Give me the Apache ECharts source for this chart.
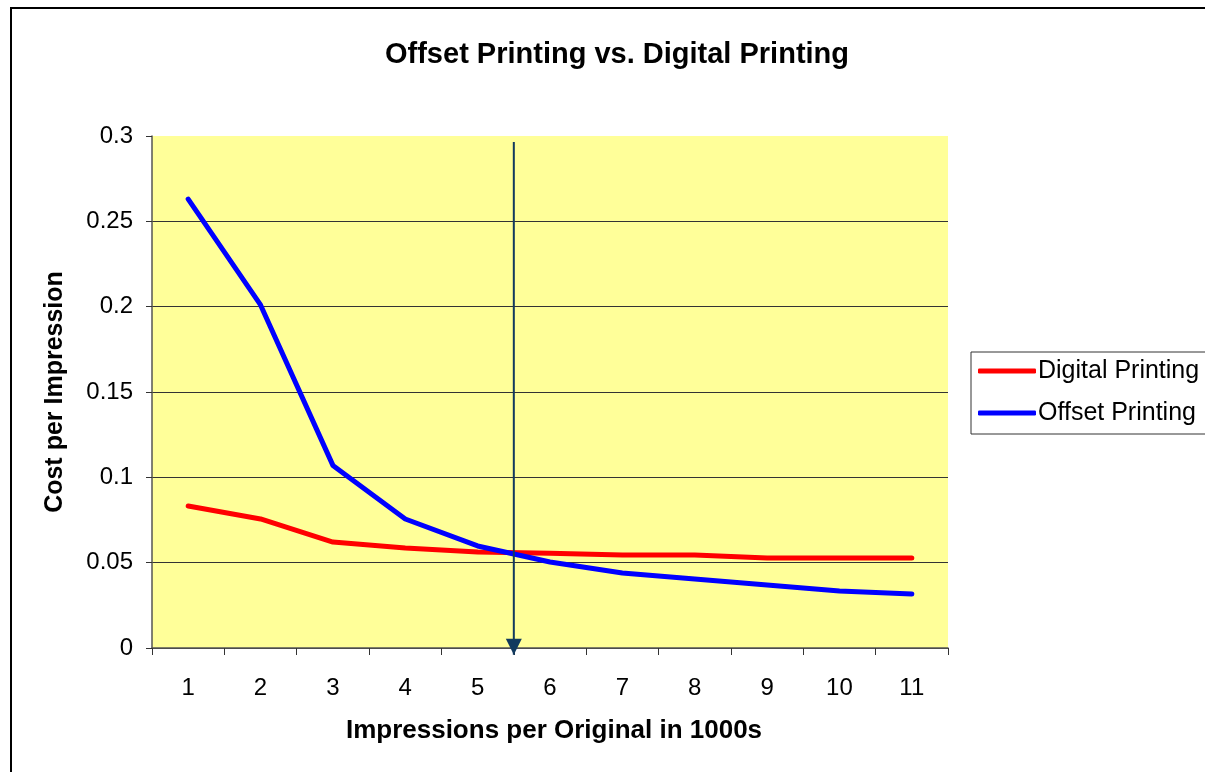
<!DOCTYPE html>
<html>
<head>
<meta charset="utf-8">
<script src="https://cdn.jsdelivr.net/npm/echarts@6/dist/echarts.min.js"></script>
<style>html,body{margin:0;padding:0;background:#fff;}#c{width:1205px;height:772px;}</style>
</head>
<body>
<div id="c"></div>
<script>
const categories = ['1','2','3','4','5','6','7','8','9','10','11'];
const digitalPrinting = [0.0832, 0.0756, 0.0621, 0.0586, 0.0563, 0.0555, 0.0545, 0.0545, 0.0527, 0.0527, 0.0527];
const offsetPrinting = [0.263, 0.201, 0.107, 0.0756, 0.0598, 0.0504, 0.0440, 0.0404, 0.0369, 0.0334, 0.0316];
const breakEvenX = 5.5;
const arrowTop = 0.2965;
const arrowBottom = -0.004;

const font = 'Arial, "Liberation Sans", sans-serif';
const chart = echarts.init(document.getElementById('c'));
chart.setOption({
  animation: false,
  backgroundColor: '#fff',
  textStyle: { fontFamily: font, color: '#000' },
  graphic: [{
    type: 'rect', z: -10, silent: true,
    shape: { x: 11, y: 8, width: 1400, height: 900 },
    style: { fill: 'none', stroke: '#000', lineWidth: 2 }
  }],
  title: {
    text: 'Offset Printing vs. Digital Printing',
    left: 380, top: 35,
    textStyle: { fontFamily: font, fontSize: 29, fontWeight: 'bold', color: '#000' }
  },
  legend: {
    orient: 'vertical',
    left: 971, top: 352,
    padding: [6, 8, 8, 7],
    itemGap: 16,
    itemWidth: 58, itemHeight: 5,
    icon: 'roundRect',
    backgroundColor: '#fff',
    borderColor: '#333', borderWidth: 1,
    textStyle: { fontFamily: font, fontSize: 25, lineHeight: 26, color: '#000', padding: [0,0,0,-3] },
    data: ['Digital Printing', 'Offset Printing']
  },
  grid: {
    left: 152, top: 136, width: 796, height: 512,
    show: true, backgroundColor: '#FFFF99', borderWidth: 0
  },
  xAxis: [{
    type: 'category',
    data: categories,
    name: 'Impressions per Original in 1000s',
    nameLocation: 'middle', nameGap: 70,
    nameTextStyle: { fontFamily: font, fontSize: 26, fontWeight: 'bold', color: '#000', padding: [0,0,0,8] },
    axisLine: { lineStyle: { color: '#555', width: 1.5 } },
    axisTick: { show: true, length: 7, lineStyle: { color: '#333' } },
    axisLabel: { fontFamily: font, fontSize: 24, color: '#000', margin: 28 },
    splitLine: { show: false }
  }, {
    type: 'value', min: 0.5, max: 11.5, show: false, gridIndex: 0
  }],
  yAxis: {
    type: 'value', min: 0, max: 0.3, interval: 0.05,
    name: 'Cost per Impression',
    nameLocation: 'middle', nameGap: 84,
    nameTextStyle: { fontFamily: font, fontSize: 25, fontWeight: 'bold', color: '#000' },
    axisLine: { show: true, lineStyle: { color: '#555', width: 1.5 } },
    axisTick: { show: true, length: 6, lineStyle: { color: '#333' } },
    axisLabel: { fontFamily: font, fontSize: 24, color: '#000', margin: 19 },
    splitLine: { show: true, lineStyle: { color: ['#333','#333','#333','#333','#333','#333','transparent'], width: 1 } }
  },
  series: [{
    name: 'Digital Printing', type: 'line', data: digitalPrinting,
    symbol: 'none', color: '#FF0000',
    lineStyle: { width: 5, color: '#FF0000', cap: 'round', join: 'round' }
  }, {
    name: 'Offset Printing', type: 'line', data: offsetPrinting,
    symbol: 'none', color: '#0000FF',
    lineStyle: { width: 5, color: '#0000FF', cap: 'round', join: 'round' }
  }, {
    name: 'breakeven', type: 'line', xAxisIndex: 1, clip: false, z: 5,
    silent: true,
    color: '#123A5E',
    lineStyle: { color: '#123A5E', width: 2 },
    itemStyle: { color: '#123A5E' },
    showAllSymbol: true,
    data: [
      { value: [breakEvenX, arrowTop], symbol: 'none' },
      { value: [breakEvenX, arrowBottom], symbol: 'triangle', symbolSize: [16, 16], symbolRotate: 180, symbolOffset: [0, -8] }
    ]
  }]
});
</script>
</body>
</html>
